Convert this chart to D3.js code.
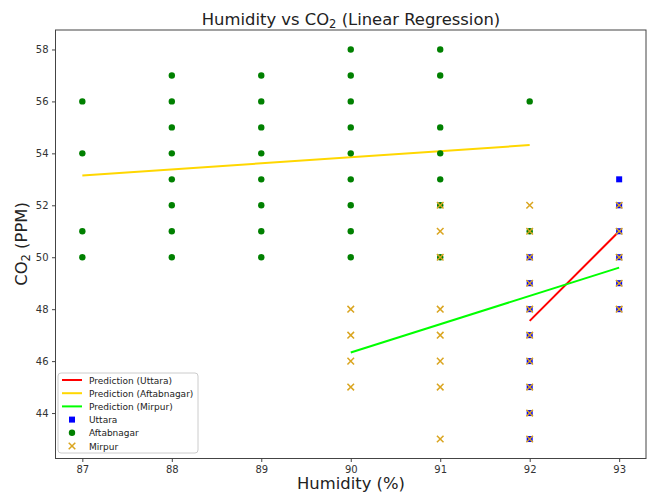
<!DOCTYPE html>
<html><head><meta charset="utf-8">
<script src="https://cdn.jsdelivr.net/npm/d3@7"></script>
<style>body{margin:0;background:#fff}svg{display:block;font-family:"DejaVu Sans",sans-serif}</style>
</head><body><svg id="c" width="651" height="495"></svg>
<script>
const xTicks = [87, 88, 89, 90, 91, 92, 93];
const yTicks = [44, 46, 48, 50, 52, 54, 56, 58];

const uttaraX = [92,92,92,92,92,92,92,92, 93,93,93,93,93,93];
const uttaraY = [50,49,48,47,46,45,44,43, 53,52,51,50,49,48];

const aftabX = [87,87,87,87, 88,88,88,88,88,88,88,88, 89,89,89,89,89,89,89,89, 90,90,90,90,90,90,90,90,90, 91,91,91,91,91,91,91, 92,92];
const aftabY = [56,54,51,50, 57,56,55,54,53,52,51,50, 57,56,55,54,53,52,51,50, 58,57,56,55,54,53,52,51,50, 58,57,55,54,53,52,50, 56,51];

const mirpurX = [90,90,90,90, 91,91,91,91,91,91,91,91, 92,92,92,92,92,92,92,92,92,92, 93,93,93,93,93];
const mirpurY = [48,47,46,45, 52,51,50,48,47,46,45,43, 52,51,50,49,48,47,46,45,44,43, 52,51,50,49,48];

const predUttaraX = [92, 93], predUttaraY = [47.55, 51.0];
const predAftabX = [87, 92], predAftabY = [53.15, 54.32];
const predMirpurX = [90, 93], predMirpurY = [46.33, 49.6];

const svg = d3.select("#c");
const L = 55.5, R = 646, T = 30, B = 458.5;
const x = d3.scaleLinear().domain([86.7, 93.3]).range([L, R]);
const y = d3.scaleLinear().domain([42.25, 58.75]).range([B, T]);

const xa = svg.append("g").attr("transform", `translate(0,${B})`)
  .call(d3.axisBottom(x).tickValues(xTicks).tickSize(3.5).tickPadding(3.5).tickFormat(d3.format("d")));
const ya = svg.append("g").attr("transform", `translate(${L},0)`)
  .call(d3.axisLeft(y).tickValues(yTicks).tickSize(3.5).tickPadding(3.5).tickFormat(d3.format("d")));
[xa, ya].forEach(a => {
  a.select(".domain").remove();
  a.selectAll("text").attr("font-size", 10).attr("fill", "#333").attr("font-family", "DejaVu Sans");
  a.selectAll("line").attr("stroke", "#444");
});

svg.append("rect").attr("x", L).attr("y", T).attr("width", R - L).attr("height", B - T)
  .attr("fill", "none").attr("stroke", "#444").attr("stroke-width", 1);

const g = svg.append("g");
function line(xs, ys, color) {
  g.append("path").datum(xs.map((v, i) => [v, ys[i]]))
    .attr("d", d3.line().x(d => x(d[0])).y(d => y(d[1])))
    .attr("stroke", color).attr("stroke-width", 2).attr("fill", "none");
}
line(predUttaraX, predUttaraY, "#ff0000");
line(predAftabX, predAftabY, "#ffd700");
line(predMirpurX, predMirpurY, "#00ff00");

g.selectAll(".u").data(uttaraX.map((v, i) => [v, uttaraY[i]])).enter().append("rect")
  .attr("x", d => x(d[0]) - 3).attr("y", d => y(d[1]) - 3).attr("width", 6).attr("height", 6).attr("fill", "#0000ff");
g.selectAll(".a").data(aftabX.map((v, i) => [v, aftabY[i]])).enter().append("circle")
  .attr("cx", d => x(d[0])).attr("cy", d => y(d[1])).attr("r", 3.2).attr("fill", "#008000");
const xm = d3.symbol().type(d3.symbolX).size(30);
g.selectAll(".m").data(mirpurX.map((v, i) => [v, mirpurY[i]])).enter().append("path")
  .attr("d", xm).attr("transform", d => `translate(${x(d[0])},${y(d[1])})`)
  .attr("fill", "none").attr("stroke", "#daa520").attr("stroke-width", 1.5);

const t = svg.append("text").attr("x", 351).attr("y", 25).attr("text-anchor", "middle").attr("font-size", 16.4).attr("fill", "#222");
t.append("tspan").text("Humidity vs CO");
t.append("tspan").text("2").attr("font-size", 11.5).attr("dy", 3);
t.append("tspan").text(" (Linear Regression)").attr("dy", -3);

svg.append("text").attr("x", 351).attr("y", 489).attr("text-anchor", "middle").attr("font-size", 16.4).attr("fill", "#222").text("Humidity (%)");
const yl = svg.append("text").attr("transform", "translate(27,244) rotate(-90)").attr("text-anchor", "middle").attr("font-size", 16.4).attr("fill", "#222");
yl.append("tspan").text("CO");
yl.append("tspan").text("2").attr("font-size", 11.5).attr("dy", 3);
yl.append("tspan").text(" (PPM)").attr("dy", -3);

const lg = svg.append("g");
lg.append("rect").attr("x", 58).attr("y", 373).attr("width", 140).attr("height", 80).attr("rx", 3)
  .attr("fill", "#fff").attr("fill-opacity", 0.8).attr("stroke", "#ccc");
const legendLabels = ["Prediction (Uttara)", "Prediction (Aftabnagar)", "Prediction (Mirpur)", "Uttara", "Aftabnagar", "Mirpur"];
const legendKinds = ["line", "line", "line", "square", "circle", "x"];
const legendColors = ["#ff0000", "#ffd700", "#00ff00", "#0000ff", "#008000", "#daa520"];
legendLabels.forEach((lab, i) => {
  const cy = 380 + i * 13.2;
  const k = legendKinds[i], c = legendColors[i];
  if (k === "line") lg.append("line").attr("x1", 62).attr("x2", 82).attr("y1", cy).attr("y2", cy).attr("stroke", c).attr("stroke-width", 2);
  else if (k === "square") lg.append("rect").attr("x", 72 - 3).attr("y", cy - 3).attr("width", 6).attr("height", 6).attr("fill", c);
  else if (k === "circle") lg.append("circle").attr("cx", 72).attr("cy", cy).attr("r", 3.2).attr("fill", c);
  else lg.append("path").attr("d", xm).attr("transform", `translate(72,${cy})`).attr("fill", "none").attr("stroke", c).attr("stroke-width", 1.5);
  lg.append("text").attr("x", 89).attr("y", cy + 3.5).attr("font-size", 9).attr("fill", "#222").text(lab);
});
</script></body></html>
